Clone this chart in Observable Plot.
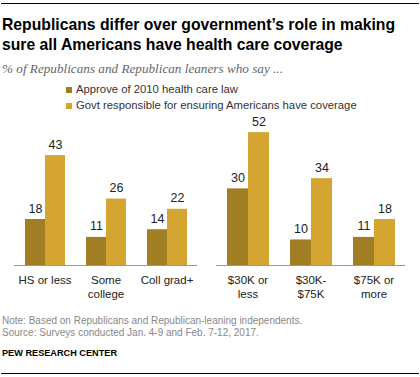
<!DOCTYPE html>
<html>
<head>
<meta charset="utf-8">
<script src="https://cdn.jsdelivr.net/npm/d3@7"></script>
<script src="https://cdn.jsdelivr.net/npm/@observablehq/plot@0.6"></script>
<style>
  html, body { margin: 0; padding: 0; background: #fff; }
  #wrap { position: relative; width: 420px; height: 377px; overflow: hidden; font-family: "Liberation Sans", Arial, sans-serif; }
  .rule { position: absolute; left: 1px; width: 418px; height: 1px; background: #000; }
  .title { position: absolute; left: 2px; top: 15px; font-family: "Liberation Sans", Arial, sans-serif; font-weight: bold; font-size: 17px; line-height: 20px; color: #000; white-space: nowrap; transform-origin: 0 0; }
  .sub { position: absolute; left: 2px; top: 61px; font-family: "Liberation Serif", Georgia, serif; font-style: italic; font-size: 13.2px; color: #666; white-space: nowrap; }
  .leg { position: absolute; left: 66px; font-size: 11.3px; color: #333; white-space: nowrap; }
  .leg i { display: inline-block; width: 6px; height: 6px; margin-right: 4px; vertical-align: 0px; }
  .note { position: absolute; left: 2px; font-size: 10px; color: #888; white-space: nowrap; }
  .pew { position: absolute; left: 2px; top: 347px; font-size: 9.5px; font-weight: bold; color: #000; white-space: nowrap; transform-origin: 0 0; }
  .panel { position: absolute; top: 100px; }
</style>
</head>
<body>
<div id="wrap">
  <div class="rule" style="top:3px"></div>
  <div class="title" id="title"><span id="t1">Republicans differ over government’s role in making</span><br>sure all Americans have health care coverage</div>
  <div class="sub">% of Republicans and Republican leaners who say ...</div>
  <div class="leg" id="leg1" style="top:83px"></div>
  <div class="leg" id="leg2" style="top:99px"></div>
  <div class="panel" id="left" style="left:0px"></div>
  <div class="panel" id="right" style="left:210px"></div>
  <div class="note" style="top:315px">Note: Based on Republicans and Republican-leaning independents.</div>
  <div class="note" style="top:327px">Source: Surveys conducted Jan. 4-9 and Feb. 7-12, 2017.</div>
  <div class="pew" id="pew"><span id="pewText">PEW RESEARCH CENTER</span></div>
  <div class="rule" style="top:373px"></div>
</div>
<script>
// Data
const series = ["Approve of 2010 health care law", "Govt responsible for ensuring Americans have coverage"];
const colors = ["#a07f24", "#d4a631"];
const eduCategories = ["HS or less", "Some\ncollege", "Coll grad+"];
const eduApprove = [18, 11, 14];
const eduGovt = [43, 26, 22];
const incCategories = ["$30K or\nless", "$30K-\n$75K", "$75K or\nmore"];
const incApprove = [30, 10, 11];
const incGovt = [52, 34, 18];

// fit the condensed-looking title and credit to the reference widths
const w1 = document.getElementById("t1").getBoundingClientRect().width;
document.getElementById("title").style.transform = `scaleX(${393 / w1})`;
const wp = document.getElementById("pewText").getBoundingClientRect().width;
document.getElementById("pew").style.transform = `scaleX(${115 / wp})`;

document.getElementById("leg1").innerHTML = `<i style="background:${colors[0]}"></i>${series[0]}`;
document.getElementById("leg2").innerHTML = `<i style="background:${colors[1]}"></i>${series[1]}`;

function rows(cats, a, g) {
  const out = [];
  cats.forEach((c, i) => {
    out.push({cat: c, series: series[0], value: a[i]});
    out.push({cat: c, series: series[1], value: g[i]});
  });
  return out;
}

function panel(cats, a, g, width, ml, mr, po) {
  const data = rows(cats, a, g);
  const H = 210, base = 165, pxPerUnit = 2.555;
  return Plot.plot({
    width, height: H,
    marginLeft: ml, marginRight: mr, marginTop: 0, marginBottom: H - base,
    style: {fontFamily: '"Liberation Sans", Arial, sans-serif', background: "transparent"},
    fx: {domain: cats, padding: 0, label: null, axis: null},
    x: {domain: series, paddingInner: 0, paddingOuter: po, axis: null},
    y: {domain: [0, 60], range: [base, base - 60 * pxPerUnit], axis: null},
    color: {domain: series, range: colors},
    marks: [
      Plot.barY(data, {fx: "cat", x: "series", y: "value", fill: "series", inset: 0}),
      Plot.ruleY([0], {stroke: "#999", strokeWidth: 1}),
      Plot.text(data, {fx: "cat", x: "series", y: "value", text: d => String(d.value), lineAnchor: "bottom", dy: -7, fontSize: 12.5, fill: "#222"}),
      Plot.axisFx({domain: cats, anchor: "bottom", tickSize: 0, tickPadding: 9, fontSize: 11.5, lineHeight: 1.2, label: null, fill: "#222"})
    ]
  });
}

document.getElementById("left").append(panel(eduCategories, eduApprove, eduGovt, 205, 14, 8, 0.49));
document.getElementById("right").append(panel(incCategories, incApprove, incGovt, 210, 5, 15, 0.47));
</script>
</body>
</html>
